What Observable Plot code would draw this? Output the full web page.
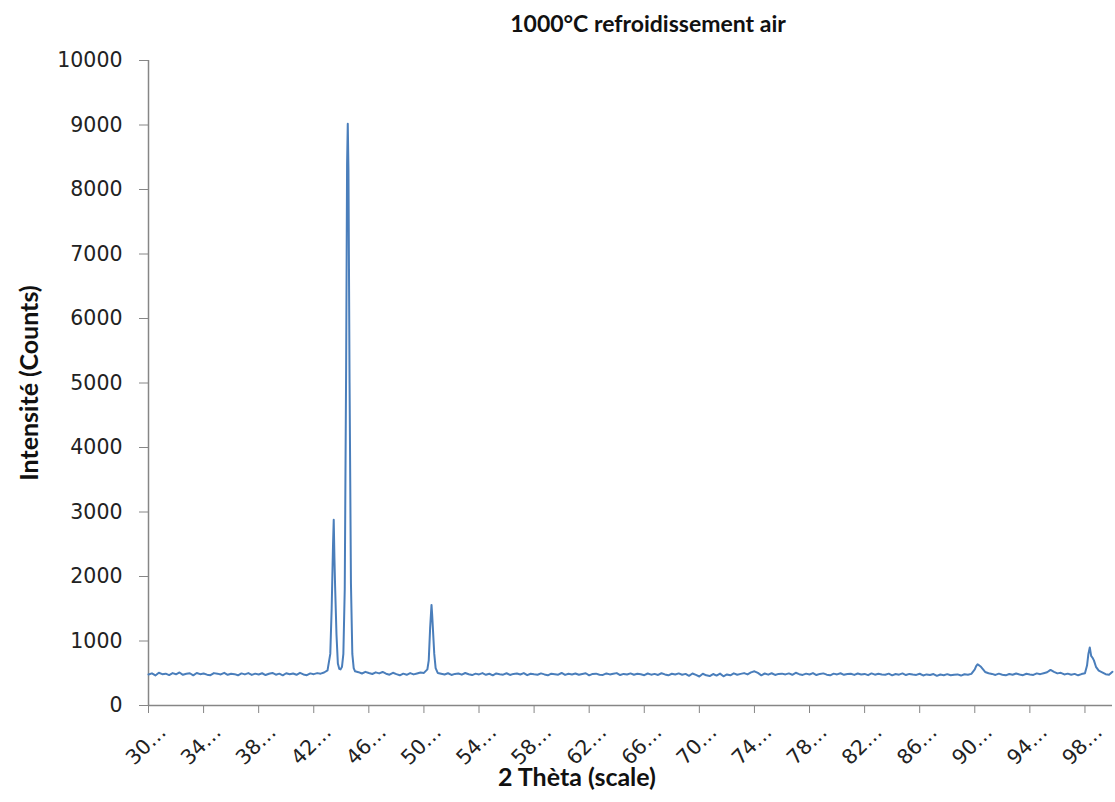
<!DOCTYPE html>
<html>
<head>
<meta charset="utf-8">
<script src="https://cdn.jsdelivr.net/npm/d3@7"></script>
<script src="https://cdn.jsdelivr.net/npm/@observablehq/plot@0.6"></script>
<style>
  html, body { margin: 0; padding: 0; background: #fff; }
  #wrap { position: relative; width: 1115px; height: 802px; overflow: hidden; }
  .lbl { position: absolute; font-family: Lato, "Open Sans", sans-serif; font-weight: bold; color: #111; white-space: nowrap; line-height: 1; }
  #title { top: 12px; left: 648px; transform: translateX(-50%); font-size: 23px; }
  #xlabel { top: 764px; left: 577px; transform: translateX(-50%); font-size: 25px; }
  #ylabel { top: 383px; left: 28px; transform: translate(-50%, -50%) rotate(-90deg); font-size: 25px; }
</style>
</head>
<body>
<div id="wrap">
  <div id="chart"></div>
  <div class="lbl" id="title">1000°C refroidissement air</div>
  <div class="lbl" id="xlabel">2 Thèta (scale)</div>
  <div class="lbl" id="ylabel">Intensité (Counts)</div>
</div>
<script>
// 2θ positions (degrees)
const theta = [
  30,30.25,30.5,30.75,31,31.25,31.5,31.75,32,32.25,32.5,32.75,33,33.25,33.5,33.75,34,34.25,34.5,34.75,
  35,35.25,35.5,35.75,36,36.25,36.5,36.75,37,37.25,37.5,37.75,38,38.25,38.5,38.75,39,39.25,39.5,39.75,
  40,40.25,40.5,40.75,41,41.25,41.5,41.75,42,42.25,42.5,
  42.75,43.0,43.2,43.3,43.4,43.45,43.5,43.55,43.65,43.75,43.85,43.95,44.05,44.15,44.25,44.35,44.42,44.47,44.52,44.6,44.7,44.8,44.9,45.0,
  45.25,45.5,45.75,46,46.25,46.5,46.75,47,47.25,47.5,47.75,48,48.25,48.5,48.75,49,49.25,49.5,49.75,50,50.25,
  50.35,50.45,50.55,50.6,50.65,50.75,50.85,51.0,
  51.25,51.5,51.75,52,52.25,52.5,52.75,53,53.25,53.5,
  53.75,54,54.25,54.5,54.75,55,55.25,55.5,55.75,56,
  56.25,56.5,56.75,57,57.25,57.5,57.75,58,58.25,58.5,
  58.75,59,59.25,59.5,59.75,60,60.25,60.5,60.75,61,
  61.25,61.5,61.75,62,62.25,62.5,62.75,63,63.25,63.5,
  63.75,64,64.25,64.5,64.75,65,65.25,65.5,65.75,66,
  66.25,66.5,66.75,67,67.25,67.5,67.75,68,68.25,68.5,
  68.75,69,69.25,69.5,69.75,70,70.25,70.5,70.75,71,
  71.25,71.5,71.75,72,72.25,72.5,72.75,73,73.25,73.5,
  73.75,74,74.25,74.5,74.75,75,75.25,75.5,75.75,76,
  76.25,76.5,76.75,77,77.25,77.5,77.75,78,78.25,78.5,
  78.75,79,79.25,79.5,79.75,80,80.25,80.5,80.75,81,
  81.25,81.5,81.75,82,82.25,82.5,82.75,83,83.25,83.5,
  83.75,84,84.25,84.5,84.75,85,85.25,85.5,85.75,86,
  86.25,86.5,86.75,87,87.25,87.5,87.75,88,88.25,88.5,
  88.75,89,89.25,89.5,89.75,
  90.0,90.1,90.2,90.3,90.45,90.6,90.75,91.0,
  91.25,91.5,91.75,92,92.25,92.5,92.75,93,93.25,93.5,93.75,94,94.25,94.5,94.75,95,95.25,95.5,95.75,96,
  96.25,96.5,96.75,97,97.25,97.5,97.75,
  98.0,98.15,98.25,98.35,98.45,98.55,98.65,98.8,99.0,99.25,99.5,99.75,100
];
// Intensity (counts)
const counts = [
  480,498,466,508,486,494,472,502,484,512,476,492,500,468,504,486,497,478,470,502,
  494,482,507,476,492,486,468,498,482,502,474,494,480,500,472,492,505,478,494,468,
  500,484,496,476,507,482,470,498,486,502,494,
  512,545,800,1500,2500,2880,2300,1850,1100,650,570,560,600,800,1800,5200,8400,9020,8300,5000,1900,800,580,530,
  517,496,522,503,488,514,498,520,493,478,507,486,468,494,476,502,482,497,512,505,560,
  700,1200,1560,1400,1200,800,580,505,
  492,480,500,474,490,497,478,504,484,472,
  494,482,502,476,492,468,497,484,478,500,
  474,490,496,480,502,470,492,483,476,498,
  482,468,494,486,478,504,474,492,482,496,
  476,488,500,468,490,494,478,474,497,482,
  492,502,472,490,480,498,476,492,484,470,
  496,478,490,474,500,482,468,492,480,498,
  476,490,460,496,474,450,492,468,456,488,
  464,494,453,482,468,498,476,490,502,482,
  514,530,505,468,496,478,500,474,490,494,
  482,498,476,507,486,474,494,480,502,472,
  490,498,478,468,494,482,500,476,488,492,
  474,496,480,490,470,498,478,492,482,476,
  494,468,488,478,498,472,490,480,474,492,
  466,482,472,488,460,480,470,486,468,478,
  482,464,484,476,490,
  560,610,640,625,600,560,520,500,
  490,474,494,478,468,488,476,496,480,470,492,482,474,498,486,500,515,552,522,498,
  507,482,494,476,490,468,487,
  500,620,800,900,770,740,700,600,540,515,485,476,522
];
const xTicks = [30,34,38,42,46,50,54,58,62,66,70,74,78,82,86,90,94,98];
const yTicks = [0,1000,2000,3000,4000,5000,6000,7000,8000,9000,10000];

const data = theta.map((t, i) => ({theta: t, counts: counts[i]}));
const axisColor = "#868686";
const chart = Plot.plot({
  width: 1115,
  height: 802,
  marginLeft: 148,
  marginRight: 3,
  marginTop: 60,
  marginBottom: 97,
  style: {background: "#fff", fontFamily: "'DejaVu Sans', Verdana, sans-serif"},
  x: {domain: [30, 100]},
  y: {domain: [0, 10000]},
  marks: [
    Plot.axisY({ticks: yTicks, tickSize: 9, tickPadding: 17, fontSize: 20.5, stroke: axisColor, color: "#222", tickFormat: d => String(d), label: null}),
    Plot.axisX({ticks: xTicks, tickSize: 8, stroke: axisColor, tickFormat: () => "", label: null}),
    Plot.axisX({ticks: xTicks, tickSize: 0, tickPadding: 23, tickRotate: -45, fontSize: 20.5, color: "#222", tickFormat: d => d + "…", label: null, textAnchor: "end", dx: 14}),
    Plot.ruleX([30], {stroke: axisColor, strokeWidth: 1.5}),
    Plot.ruleY([0], {stroke: axisColor, strokeWidth: 1.5}),
    Plot.lineY(data, {x: "theta", y: "counts", stroke: "#4a7ebb", strokeWidth: 2})
  ]
});
document.getElementById("chart").appendChild(chart);
</script>
</body>
</html>
